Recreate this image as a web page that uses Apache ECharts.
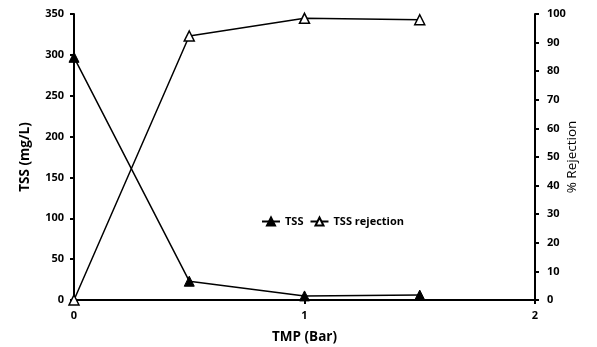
<!DOCTYPE html>
<html>
<head>
<meta charset="utf-8">
<script src="https://cdn.jsdelivr.net/npm/echarts@6/dist/echarts.min.js"></script>
<style>
  html, body { margin: 0; padding: 0; background: #fff; }
  #main { width: 597px; height: 347px; }
</style>
</head>
<body>
<div id="main"></div>
<script>
// TMP (Bar) values and the two measured series
var tmp = [0, 0.5, 1, 1.5]
var tss = [297, 23, 5, 6]
var rejection = [0, 92.3, 98.5, 98]

var font = 'Open Sans'

var chart = echarts.init(document.getElementById('main'))

var axisCommon = {
  axisLine: { show: true, lineStyle: { color: '#000', width: 2 } },
  axisTick: { show: true, length: 4, lineStyle: { color: '#000', width: 2 } },
  splitLine: { show: false },
  axisLabel: { color: '#000', fontFamily: font, fontWeight: 'bold', fontSize: 11 },
  nameTextStyle: { color: '#000', fontFamily: font, fontWeight: 'bold', fontSize: 13.5 }
}

var option = {
  backgroundColor: '#fff',
  animation: false,
  grid: { left: 74, right: 62, top: 14, bottom: 47, containLabel: false, outerBoundsMode: 'none' },
  legend: {
    left: 256, top: 211,
    itemWidth: 18, itemHeight: 10, itemGap: 6,
    textStyle: { color: '#000', fontFamily: font, fontWeight: 'bold', fontSize: 11 },
    data: ['TSS', 'TSS rejection']
  },
  xAxis: Object.assign({}, axisCommon, {
    type: 'value', min: 0, max: 2, interval: 1,
    name: 'TMP (Bar)', nameLocation: 'middle', nameGap: 30,
    axisLabel: Object.assign({}, axisCommon.axisLabel, { margin: 10 })
  }),
  yAxis: [
    Object.assign({}, axisCommon, {
      type: 'value', min: 0, max: 350, interval: 50,
      name: 'TSS (mg/L)', nameLocation: 'middle', nameGap: 42,
      axisLabel: Object.assign({}, axisCommon.axisLabel, { margin: 10 })
    }),
    Object.assign({}, axisCommon, {
      type: 'value', min: 0, max: 100, interval: 10, position: 'right',
      name: '% Rejection', nameLocation: 'middle', nameGap: 30, nameRotate: 90,
      nameMoveOverlap: false,
      nameTextStyle: { color: '#000', fontFamily: font, fontWeight: 'normal', fontSize: 13.5 },
      axisLabel: Object.assign({}, axisCommon.axisLabel, { margin: 12 })
    })
  ],
  series: [
    {
      name: 'TSS', type: 'line', yAxisIndex: 0,
      data: tmp.map(function (x, i) { return [x, tss[i]] }),
      symbol: 'triangle', symbolSize: 10, showAllSymbol: true,
      lineStyle: { color: '#000', width: 1.5 },
      itemStyle: { color: '#000', borderColor: '#000', borderWidth: 1 }
    },
    {
      name: 'TSS rejection', type: 'line', yAxisIndex: 1,
      data: tmp.map(function (x, i) { return [x, rejection[i]] }),
      symbol: 'triangle', symbolSize: 10, showAllSymbol: true,
      lineStyle: { color: '#000', width: 1.5 },
      itemStyle: { color: '#fff', borderColor: '#000', borderWidth: 1.5 }
    }
  ]
}

chart.setOption(option)
</script>
</body>
</html>
